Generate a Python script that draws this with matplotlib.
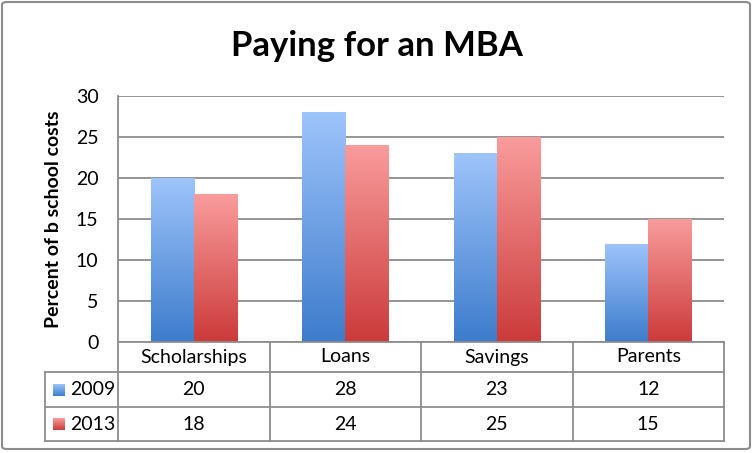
import matplotlib.pyplot as plt
import numpy as np
from matplotlib.patches import FancyBboxPatch, Rectangle
from matplotlib.colors import LinearSegmentedColormap

plt.rcParams['font.family'] = ['Lato', 'DejaVu Sans']

categories = ["Scholarships", "Loans", "Savings", "Parents"]
years = ["2009", "2013"]
values_2009 = [20, 28, 23, 12]
values_2013 = [18, 24, 25, 15]
y_ticks = [0, 5, 10, 15, 20, 25, 30]

BLUE_TOP, BLUE_BOT = "#9ec4fb", "#3d7ccc"
RED_TOP, RED_BOT = "#f99c9c", "#cc3a3a"
GRID = "#8c8c8c"

W, H = 753, 453
fig = plt.figure(figsize=(W / 100, H / 100), dpi=100)

# axes placed in pixel terms
left, right, top, bottom = 118, 724, 96, 342
ax = fig.add_axes([left / W, 1 - bottom / H, (right - left) / W, (bottom - top) / H])
ax.set_xlim(0, len(categories))
ax.set_ylim(0, 30)

for t in y_ticks:
    ax.axhline(t, color=GRID, lw=1.3, zorder=1)
ax.set_yticks(y_ticks)
ax.tick_params(axis="y", length=0, pad=14, labelsize=14)
ax.set_xticks([])
for s in ["top", "right", "bottom"]:
    ax.spines[s].set_visible(False)
ax.spines["left"].set_color(GRID)
ax.spines["left"].set_linewidth(1.3)
ax.set_ylabel("Percent of b school costs", fontsize=14, fontweight="bold", labelpad=10)

bar_w = 0.285
blue_map = LinearSegmentedColormap.from_list("b", [BLUE_BOT, BLUE_TOP])
red_map = LinearSegmentedColormap.from_list("r", [RED_BOT, RED_TOP])
grad = np.linspace(0, 1, 256).reshape(-1, 1)


def gradient_bar(x0, h, cmap):
    rect = Rectangle((x0, 0), bar_w, h, facecolor="none", edgecolor="none")
    ax.add_patch(rect)
    im = ax.imshow(grad, extent=(x0, x0 + bar_w, 0, h), origin="lower",
                   cmap=cmap, aspect="auto", zorder=2, vmin=0, vmax=1)
    im.set_clip_path(rect)


for i in range(len(categories)):
    gradient_bar(i + 0.5 - bar_w, values_2009[i], blue_map)
    gradient_bar(i + 0.5, values_2013[i], red_map)
ax.set_xlim(0, len(categories))
ax.set_ylim(0, 30)

# data table drawn below the axes
rows_y = [342, 372, 407, 441]
col_x = [left + (right - left) * k / 4 for k in range(5)]
tab_left = 45


def fx(px):
    return px / W


def fy(py):
    return 1 - py / H


lk = dict(color=GRID, lw=1.3, transform=fig.transFigure)
fig.add_artist(plt.Line2D([fx(left), fx(right)], [fy(rows_y[0])] * 2, **lk))
for yy in rows_y[1:]:
    fig.add_artist(plt.Line2D([fx(tab_left), fx(right)], [fy(yy)] * 2, **lk))
for xx in col_x:
    fig.add_artist(plt.Line2D([fx(xx)] * 2, [fy(rows_y[0]), fy(rows_y[-1])], **lk))
fig.add_artist(plt.Line2D([fx(tab_left)] * 2, [fy(rows_y[1]), fy(rows_y[-1])], **lk))

fs = 14
for i, c in enumerate(categories):
    cx = (col_x[i] + col_x[i + 1]) / 2
    fig.text(fx(cx), fy((rows_y[0] + rows_y[1]) / 2), c, ha="center", va="center", fontsize=fs)
    fig.text(fx(cx), fy((rows_y[1] + rows_y[2]) / 2), str(values_2009[i]), ha="center", va="center", fontsize=fs)
    fig.text(fx(cx), fy((rows_y[2] + rows_y[3]) / 2), str(values_2013[i]), ha="center", va="center", fontsize=fs)

for r, (yr, cm) in enumerate(zip(years, [blue_map, red_map])):
    cy = (rows_y[r + 1] + rows_y[r + 2]) / 2
    sq = fig.add_axes([fx(53), fy(cy + 6), 12 / W, 12 / H])
    sq.imshow(grad, origin="lower", cmap=cm, aspect="auto", vmin=0, vmax=1)
    sq.axis("off")
    fig.text(fx(70), fy(cy), yr, ha="left", va="center", fontsize=fs)

fig.text(0.5, fy(46), "Paying for an MBA", ha="center", va="center", fontsize=25, fontweight="bold")

border = FancyBboxPatch((fx(2), fy(449)), fx(748), (447) / H, boxstyle="round,pad=0,rounding_size=0.006",
                        transform=fig.transFigure, facecolor="none", edgecolor="#8c8c8c", lw=1.5)
fig.add_artist(border)

fig.savefig("out.png", dpi=100)
